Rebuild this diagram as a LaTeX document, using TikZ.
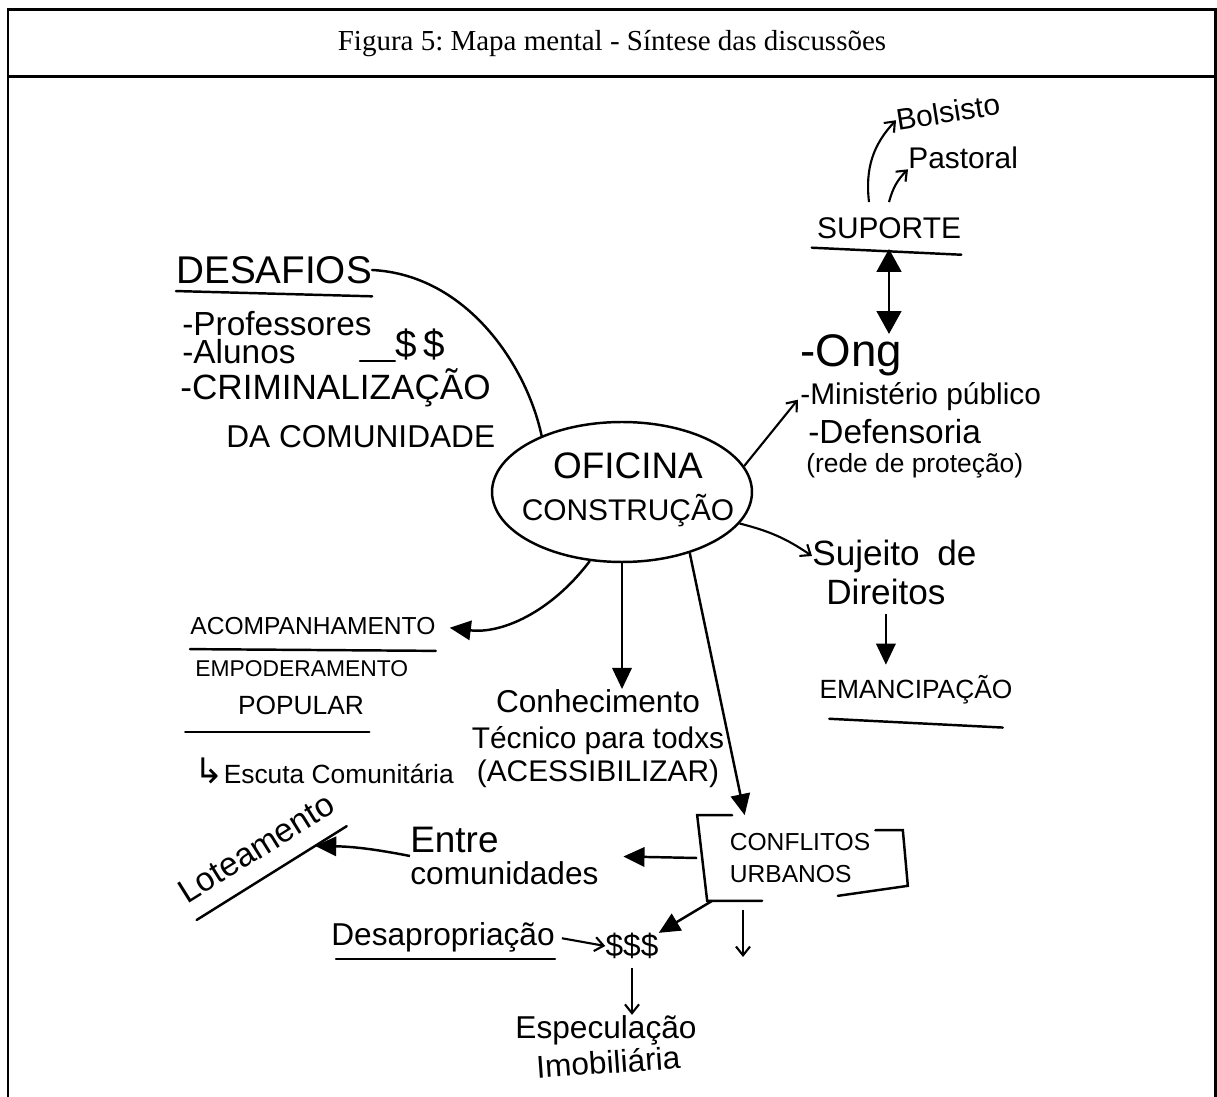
\documentclass[tikz,border=0pt]{standalone}
\usepackage{fontspec}
\setmainfont{Liberation Sans}
\newfontfamily\legendafont{Liberation Serif}
\newfontfamily\simbolofont{DejaVu Sans}
\usepackage{tikz}
\usetikzlibrary{shapes.geometric, arrows.meta}
\frenchspacing
\newcommand{\tam}[1]{\fontsize{#1}{#1}\selectfont}
\tikzstyle{hub} = [ellipse, draw, line width=1.4pt, minimum width=5.2cm, minimum height=2.8cm, inner sep=0pt]
\tikzstyle{hand} = [inner sep=0pt]
\tikzstyle{arrow} = [line width=1.4pt, -{Triangle[length=12pt,width=11pt]}]
\tikzstyle{twoway} = [line width=1.4pt, {Triangle[length=13pt,width=14pt]}-{Triangle[length=13pt,width=14pt]}]
\tikzstyle{thinarrow} = [line width=1.2pt, -{Straight Barb[length=5pt,width=8pt]}]
\tikzstyle{stroke} = [line width=1.4pt, line cap=round]
\tikzstyle{frame} = [line width=1.7pt]

\begin{document}
\begin{tikzpicture}[x=0.02cm, y=-0.02cm]
\useasboundingbox (0,0) rectangle (1217,1097);
\draw[frame] (8,1097) -- (8,10) -- (1215,10) -- (1215,1097);
\draw[frame] (8,77) -- (1215,77);
\node (legenda) at (612,44) {\legendafont\tam{16.5}Figura 5: Mapa mental - Síntese das discussões};

\node (oficina) [hub] at (622,492) {};
\node (oficinatopo) [hand, font={\tam{21}}] at (628,466) {OFICINA};
\node (oficinabase) [hand, font={\tam{17}}, node distance=0.9cm, below of=oficinatopo] {CONSTRUÇÃO};

\node (desafios) [hand, font={\tam{22}}, anchor=west] at (176,270) {DESAFIOS};
\node (professores) [hand, font={\tam{19}}, anchor=west] at (182,324) {-Professores};
\node (alunos) [hand, font={\tam{19}}, anchor=west] at ([yshift=-0.56cm]professores.west) {-Alunos};
\node (cifrao) [hand, font={\tam{22}}] at (420,345) {\$\,\$};
\node (criminalizacao) [hand, font={\tam{20}}, anchor=west] at (180,388) {-CRIMINALIZAÇÃO};
\node (comunidade) [hand, font={\tam{18}}, anchor=west] at (226,437) {DA COMUNIDADE};
\draw[stroke] ([yshift=-4pt]desafios.south west) -- ([yshift=-7pt]desafios.south east);
\draw[stroke] (desafios.east) .. controls +(95,5) and +(-15,-70) .. (oficina.145);
\draw[stroke] ([xshift=-0.7cm]cifrao.south west) -- (cifrao.south west);

\node (suporte) [hand, font={\tam{17}}] at (889,228) {SUPORTE};
\node (bolsisto) [hand, font={\tam{17}}, rotate=9] at (948,112) {Bolsisto};
\node (pastoral) [hand, font={\tam{17}}, anchor=west] at (908,158) {Pastoral};
\draw[stroke] ([xshift=-0.1cm, yshift=-5pt]suporte.south west) -- ([yshift=-9pt]suporte.south east);
\draw[thinarrow] ([xshift=-0.4cm, yshift=0.3cm]suporte.north) to[bend left=25] (bolsisto.west);
\draw[thinarrow] ([yshift=0.3cm]suporte.north) to[bend left=15] (pastoral.south west);

\node (ong) [hand, font={\tam{26}}, anchor=west] at (800,355) {-Ong};
\node (ministerio) [hand, font={\tam{17}}, anchor=west] at (800,397) {-Ministério público};
\node (defensoria) [hand, font={\tam{19}}, anchor=west] at (808,432) {-Defensoria};
\node (rede) [hand, font={\tam{15}}, anchor=west] at (806,466) {(rede de proteção)};
\draw[twoway] ([yshift=-0.2cm]suporte.south) -- (suporte.south |- ong.north);
\draw[thinarrow, shorten >=2pt] (oficina.12) -- (ministerio.west);

\node (sujeito) [hand, font={\tam{20}}, anchor=west] at (812,556) {Sujeito\enspace de};
\node (direitos) [hand, font={\tam{20}}, anchor=west] at (826,592) {Direitos};
\node (emancipacao) [hand, font={\tam{15}}] at (916,690) {EMANCIPAÇÃO};
\draw[thinarrow] (oficina.-15) to[bend left=10] (sujeito.west);
\draw[arrow, shorten <=5pt, shorten >=6pt] (direitos.south) -- (direitos.south |- emancipacao.north);
\draw[stroke] ([xshift=0.2cm, yshift=-8pt]emancipacao.south west) -- ([xshift=-0.2cm, yshift=-13pt]emancipacao.south east);

\node (acompanhamento) [hand, font={\tam{14}}, anchor=west] at (190,626) {ACOMPANHAMENTO};
\node (empoderamento) [hand, font={\tam{13}}, anchor=west] at (195,669) {EMPODERAMENTO};
\node (popular) [hand, font={\tam{15}}] at (301,705) {POPULAR};
\node (escuta) [hand, font={\tam{15}}, anchor=west] at (194,771) {{\simbolofont\tam{20}↳}Escuta Comunitária};
\draw[stroke] ([yshift=-8pt]acompanhamento.south west) -- ([yshift=-9pt]acompanhamento.south east);
\draw[stroke] ([xshift=-1.05cm, yshift=-10pt]popular.south west) -- ([xshift=0.1cm, yshift=-10pt]popular.south east);
\draw[arrow, shorten >=8pt] (oficina.-115) to[bend left=30] (acompanhamento.east);

\node (conhecimento) [hand, font={\tam{18}}] at (598,701) {Conhecimento};
\node (tecnico) [hand, font={\tam{17}}, node distance=0.8cm, below of=conhecimento] {Técnico para todxs};
\node (acessibilizar) [hand, font={\tam{17}}, node distance=0.66cm, below of=tecnico] {(ACESSIBILIZAR)};
\draw[arrow] (oficina.south) -- (oficina.south |- conhecimento.north);

\node (conflitos) [hand, minimum width=4.1cm, minimum height=1.7cm, font=\fontsize{14}{18}\selectfont, align=left] at (800,858) {CONFLITOS\\URBANOS};
\draw[stroke] ([xshift=0.7cm]conflitos.north west) -- (conflitos.north west) -- ([xshift=0.2cm]conflitos.south west) -- ([xshift=1.3cm]conflitos.south west);
\draw[stroke] ([xshift=-0.55cm, yshift=-0.3cm]conflitos.north east) -- ([yshift=-0.3cm]conflitos.north east) -- ([xshift=0.1cm, yshift=0.3cm]conflitos.south east) -- ([xshift=-1.3cm, yshift=0.1cm]conflitos.south east);
\draw[arrow] (oficina.-42) -- ([xshift=0.95cm]conflitos.north west);

\node (entre) [hand, font=\fontsize{18}{18}\selectfont, align=left, anchor=west] at (410,856) {{\tam{21}Entre}\\comunidades};
\draw[arrow, shorten >=14pt] (conflitos.west) -- (entre.east);

\node (loteamento) [hand, inner ysep=10pt, font={\tam{19}}, rotate=32] at (256,848) {Loteamento};
\draw[stroke] (loteamento.south west) -- (loteamento.south east);
\draw[arrow] (entre.west) to[bend right=5] (loteamento);

\node (desapropriacao) [hand, font={\tam{18}}] at (443,937) {Desapropriação};
\node (dinheiro) [hand, font={\tam{18}}] at (632,946) {\$\$\$};
\draw[stroke] ([xshift=0.1cm, yshift=-4pt]desapropriacao.south west) -- ([yshift=-4pt]desapropriacao.south east);
\draw[arrow] ([xshift=0.3cm]conflitos.south west) -- (dinheiro.north east);
\draw[thinarrow, shorten <=4pt] (desapropriacao.east) -- (dinheiro.west);

\coordinate (conflitosfim) at (743,957);
\draw[thinarrow, shorten <=5pt] (conflitosfim |- conflitos.south) -- (conflitosfim);

\node (especulacao) [hand, font={\tam{18}}] at (606,1030) {Especulação};
\node (imobiliaria) [hand, font={\tam{18}}, rotate=4, node distance=0.64cm, below of=especulacao] {Imobiliária};
\draw[thinarrow, shorten <=5pt] (dinheiro.south) -- (dinheiro.south |- especulacao.north);
\end{tikzpicture}
\end{document}
